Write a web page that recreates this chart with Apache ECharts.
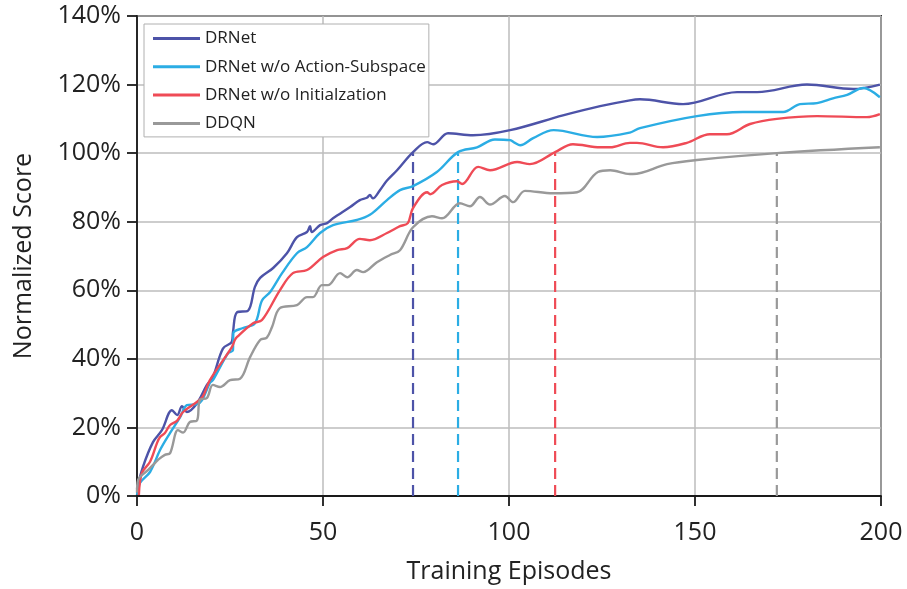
<!DOCTYPE html>
<html><head><meta charset="utf-8">
<script src="https://cdn.jsdelivr.net/npm/echarts@6/dist/echarts.min.js"></script>
<style>html,body{margin:0;padding:0;background:#fff}#c{width:907px;height:589px}</style>
</head><body><div id="c"></div>
<script>
const seriesNames = ['DRNet', 'DRNet w/o Action-Subspace', 'DRNet w/o Initialzation', 'DDQN'];
const colors = ['#4d53a8', '#2badE4', '#ef4b56', '#999999'];
const xTicks = [0, 50, 100, 150, 200];
const yTicks = [0, 20, 40, 60, 80, 100, 120, 140];

const drnet = [[0,2],[1.6,8.5],[4.3,15.7],[6.7,19.2],[9.4,25],[10.8,23.6],[12.1,26.2],[13.4,24.5],[16.1,27],[18.8,32.4],[20.4,34.7],[23.1,43],[25.5,45],[25.8,47.8],[26.9,53.6],[29.8,54],[31.7,61],[33.1,63.6],[36.6,66.5],[40.3,70.8],[43,75.5],[45.7,77],[46.5,78.7],[47,77],[49.2,79],[51.1,79.6],[52.7,81],[57.3,84.3],[59.9,86.3],[61.8,87],[62.6,87.8],[63.4,86.8],[65.3,89.2],[67.2,92],[69.9,95],[74.2,100.3],[78,103.2],[79.6,102.6],[83.6,105.8],[90.3,105.2],[100.3,106.7],[114.5,111],[124.5,113.7],[132.5,115.4],[135.2,115.7],[146.8,114.3],[161.3,117.8],[166.7,117.8],[180.1,120],[192.5,118.7],[199.7,120]];
const noSubspace = [[0,0.3],[0.8,3.8],[3.5,7],[6.2,13.4],[8.9,18.4],[11.6,23],[13.4,26.5],[16.1,26.8],[17.5,28],[19.6,33],[20.4,33.8],[24.5,41.7],[25.8,42.5],[25.9,47.5],[28.5,49],[31.7,50.4],[33.6,57],[35.8,59.5],[39,65],[43,70.8],[45.7,72.6],[49.2,76.7],[52.7,79],[59.1,80.5],[62.6,82],[67.2,86.3],[70.7,89.2],[74.2,90.4],[80.6,94.5],[86.3,100.3],[91.4,101.7],[96.2,104],[100.3,103.8],[101.6,103],[103,102.3],[106.5,104.4],[112,106.7],[123.7,104.7],[132.5,106],[135.2,107.3],[150.5,110.8],[162.9,112],[173.7,112],[178.2,114.3],[182.8,114.6],[187.1,116],[190.9,117],[195.2,119],[199.7,116.3]];
const noInit = [[0.5,0.3],[1.3,6.7],[3.5,10],[5.4,15.5],[6.2,17.2],[7.5,18.4],[8.9,20.7],[10.8,22],[12.4,24.5],[16.1,27.4],[17.7,29],[19.6,33.8],[25.5,43.4],[26.3,45.5],[26.9,46.4],[31.2,50.4],[33.6,51.3],[38.4,60],[41.9,65],[45.7,65.9],[50,69.7],[53.8,71.7],[56.5,72.3],[59.9,75],[62.6,74.6],[67.2,76.7],[70.7,78.7],[72.8,79.6],[74.2,84],[78,88.6],[78.8,88],[82,90.7],[86,91.8],[87.4,91],[91.7,96],[94.9,95],[102.2,97.4],[105.6,96.8],[112.4,100.3],[117.2,102.6],[124.5,101.7],[127.2,101.7],[132.5,103],[134.4,103],[141.4,101.7],[147.8,103],[154,105.5],[158.6,105.5],[164.8,108.5],[172,110],[182.8,110.8],[196.2,110.5],[199.7,111.4]];
const ddqn = [[0,1],[0.3,4.7],[3,7.6],[4.8,9.6],[5.6,10.5],[7.5,12],[8.9,12.5],[11,19.2],[12.4,18.5],[14.2,21.6],[16.1,22],[16.9,28],[18.8,28.6],[20.4,32.4],[22.3,31.8],[25,33.8],[27.7,34.2],[30.4,40.5],[33.1,45.5],[34.9,46.2],[36.3,49.3],[38.4,54.8],[43,55.7],[45.7,58],[47.3,58],[49.7,61.5],[51.3,61.5],[54.6,65],[56.5,63.8],[59.1,65.9],[60.8,65.3],[64.5,68.2],[68,70.3],[70.7,71.7],[74.2,78.4],[79.3,81.6],[82,81],[86.8,85.4],[89.5,84.5],[92.2,87.2],[94.9,85],[98.9,87.5],[101.1,85.7],[104.3,89],[111.8,88.3],[118.3,88.6],[123.9,94.5],[127.2,95],[132.5,93.9],[133.3,93.9],[142.5,96.8],[150.5,98],[172,100],[199.7,101.7]];
const dashX = [74.2, 86.3, 112.4, 172];
const dashTop = [100, 100, 100, 100];

const curves = [drnet, noSubspace, noInit, ddqn];
const font = 'Open Sans';
const series = [];
dashX.forEach((x, i) => {
  series.push({type:'line', data:[[x,0],[x,dashTop[i]]], showSymbol:false, silent:true, z:1,
    lineStyle:{color:colors[i], width:2.2, type:[11,6]}});
});
curves.forEach((d, i) => {
  series.push({name:seriesNames[i], type:'line', data:d, showSymbol:false, smooth:0.35, z:3,
    lineStyle:{color:colors[i], width:2.4}, itemStyle:{color:colors[i]}});
});

const chart = echarts.init(document.getElementById('c'));
chart.setOption({
  animation:false,
  backgroundColor:'#fff',
  grid:{left:137, right:26, top:16, bottom:93, containLabel:false, outerBoundsMode:'none', show:true, borderColor:'#1a1a1a', borderWidth:1.8},
  legend:{data:seriesNames, orient:'vertical', left:144, top:24, backgroundColor:'#fff',
    borderColor:'#b0b0b0', borderWidth:1, padding:[6,3,5,9], itemGap:11.3, itemWidth:47, itemHeight:3,
    icon:'rect', textStyle:{fontFamily:font, fontSize:17, color:'#222'}},
  xAxis:{type:'value', min:0, max:200, interval:50, name:'Training Episodes', nameLocation:'middle', nameGap:63,
    nameTextStyle:{fontFamily:font, fontSize:25, color:'#222'},
    axisLine:{show:true, lineStyle:{color:'#1a1a1a', width:1.8}}, axisTick:{show:true, length:10, lineStyle:{color:'#1a1a1a', width:1.8}},
    axisLabel:{fontFamily:font, fontSize:25, color:'#222', margin:24},
    splitLine:{show:true, lineStyle:{color:'#bdbdbd', width:1.5}}},
  yAxis:{type:'value', min:0, max:140, interval:20, name:'Normalized Score', nameLocation:'middle', nameGap:101,
    nameTextStyle:{fontFamily:font, fontSize:25, color:'#222'},
    axisLine:{show:true, lineStyle:{color:'#1a1a1a', width:1.8}}, axisTick:{show:true, length:10, lineStyle:{color:'#1a1a1a', width:1.8}},
    axisLabel:{fontFamily:font, fontSize:25, color:'#222', margin:16, formatter:'{value}%'},
    splitLine:{show:true, lineStyle:{color:'#bdbdbd', width:1.5}}},
  series:series
});
</script></body></html>
